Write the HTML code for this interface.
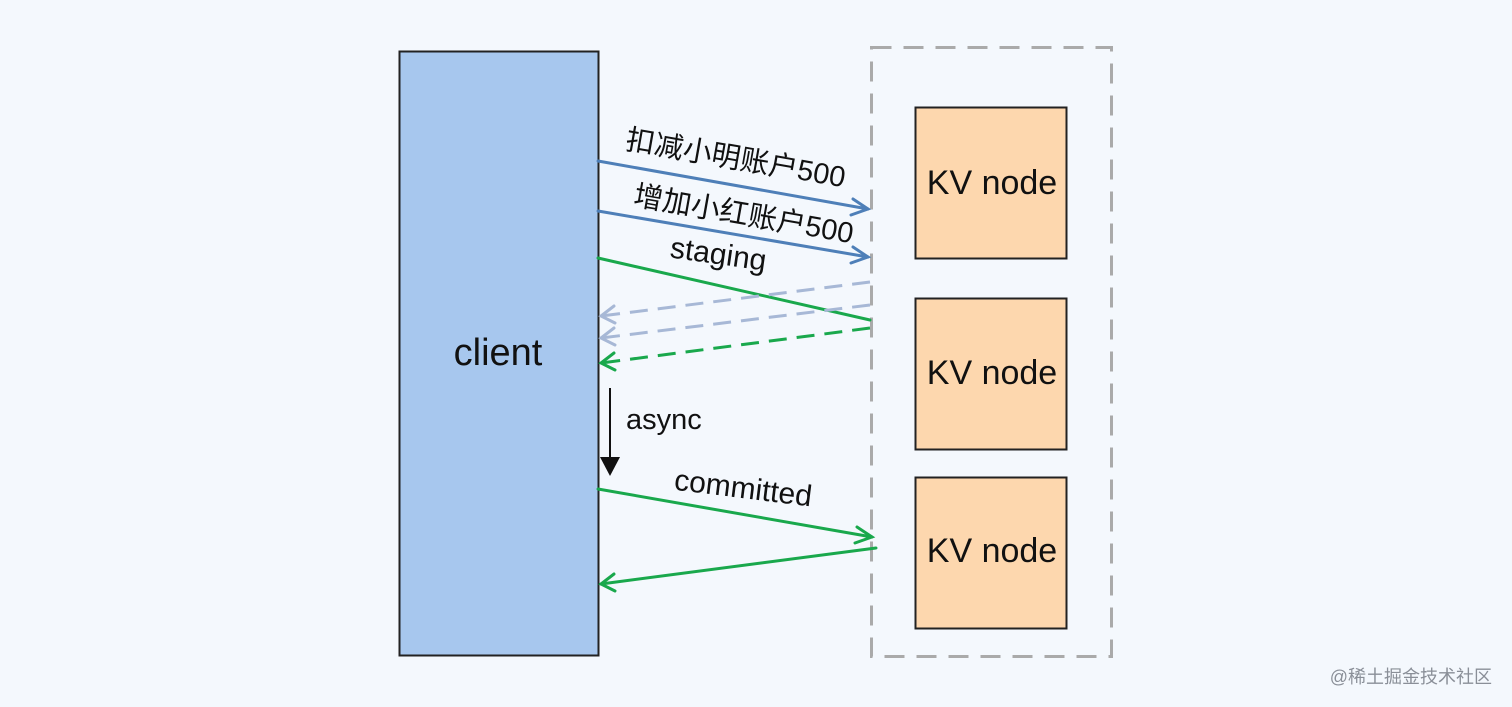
<!DOCTYPE html>
<html><head><meta charset="utf-8"><style>
html,body{margin:0;padding:0;background:#f4f8fd;}
svg{display:block;}
text{font-family:"Liberation Sans","Noto Sans CJK SC",sans-serif;fill:#111;}
</style></head><body>
<svg width="1512" height="707" viewBox="0 0 1512 707" xmlns="http://www.w3.org/2000/svg">
<rect width="1512" height="707" fill="#f4f8fd"/>
<rect x="399.5" y="51.5" width="199" height="604" fill="#a7c7ee" stroke="#222" stroke-width="2"/>
<text x="498" y="365" font-size="38" text-anchor="middle">client</text>
<rect x="871.5" y="47.5" width="240" height="609" fill="none" stroke="#aaa" stroke-width="3" stroke-dasharray="20 12"/>
<g fill="#fdd7ae" stroke="#222" stroke-width="2">
<rect x="915.5" y="107.5" width="151" height="151"/>
<rect x="915.5" y="298.5" width="151" height="151"/>
<rect x="915.5" y="477.5" width="151" height="151"/>
</g>
<g font-size="34" text-anchor="middle">
<text x="992" y="194">KV node</text>
<text x="992" y="384">KV node</text>
<text x="992" y="562">KV node</text>
</g>
<g fill="none" stroke-width="3" stroke-linecap="round">
<line x1="598" y1="161" x2="868" y2="209" stroke="#4e7fb8"/>
<polyline points="853,199 868,209 851,215" stroke="#4e7fb8"/>
<line x1="598" y1="211" x2="868" y2="257" stroke="#4e7fb8"/>
<polyline points="853,247 868,257 851,263" stroke="#4e7fb8"/>
<line x1="598" y1="258" x2="870" y2="320" stroke="#19a84c"/>
<line x1="870" y1="282" x2="601" y2="316" stroke="#a7b8d6" stroke-dasharray="18 10" stroke-linecap="butt"/>
<polyline points="614,306 601,316 615,323" stroke="#a7b8d6"/>
<line x1="870" y1="305" x2="601" y2="338" stroke="#a7b8d6" stroke-dasharray="18 10" stroke-linecap="butt"/>
<polyline points="614,328 601,338 615,345" stroke="#a7b8d6"/>
<line x1="870" y1="328" x2="601" y2="363" stroke="#19a84c" stroke-dasharray="18 10" stroke-linecap="butt"/>
<polyline points="614,353 601,363 615,370" stroke="#19a84c"/>
<line x1="598" y1="489" x2="872" y2="537" stroke="#19a84c"/>
<polyline points="857,527 872,537 855,543" stroke="#19a84c"/>
<line x1="876" y1="548" x2="601" y2="584" stroke="#19a84c"/>
<polyline points="614,574 601,584 615,591" stroke="#19a84c"/>
</g>
<line x1="610" y1="388" x2="610" y2="460" stroke="#111" stroke-width="2"/>
<polygon points="600,457 620,457 610,476" fill="#111"/>
<text x="626" y="429" font-size="29">async</text>
<text font-size="29" text-anchor="middle" transform="translate(734,168) rotate(10)">扣减小明账户500</text>
<text font-size="29" text-anchor="middle" transform="translate(742,224) rotate(10)">增加小红账户500</text>
<text font-size="30" text-anchor="middle" transform="translate(717,264) rotate(8)">staging</text>
<text font-size="30" text-anchor="middle" transform="translate(742,498) rotate(7)">committed</text>
<text x="1492" y="683" font-size="18" text-anchor="end" style="fill:#8a8f98">@稀土掘金技术社区</text>
</svg>
</body></html>
